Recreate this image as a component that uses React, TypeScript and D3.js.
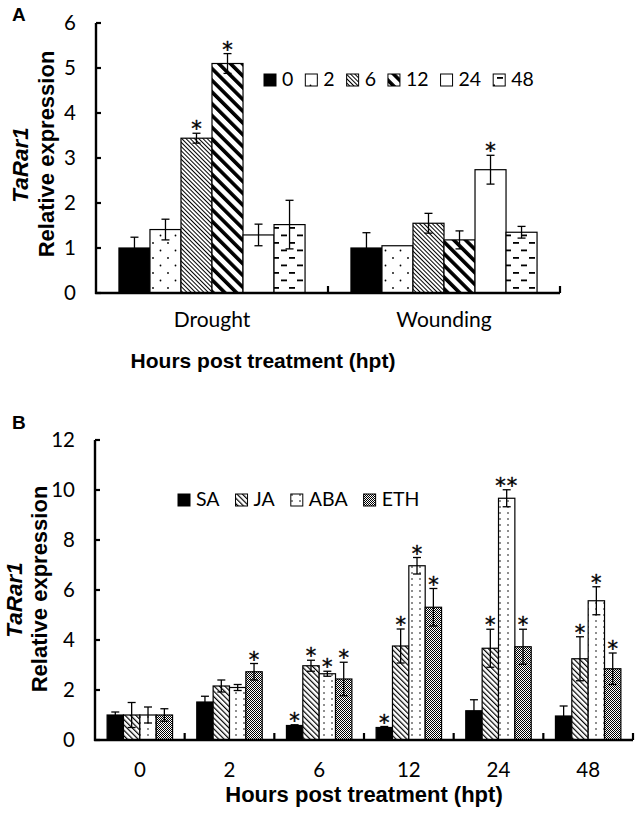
import React, { useEffect, useRef } from "react";
import * as d3 from "d3";

// ---------- Panel A data ----------
const stressCategories = ["Drought", "Wounding"];
const timeSeriesA = ["0", "2", "6", "12", "24", "48"];
const droughtMean = [1.0, 1.41, 3.44, 5.1, 1.29, 1.52];
const droughtErr = [0.24, 0.23, 0.11, 0.22, 0.24, 0.54];
const droughtSig = ["", "", "*", "*", "", ""];
const woundMean = [1.0, 1.05, 1.55, 1.18, 2.74, 1.35];
const woundErr = [0.34, 0.0, 0.22, 0.2, 0.32, 0.13];
const woundSig = ["", "", "", "", "*", ""];
const yTicksA = [0, 1, 2, 3, 4, 5, 6];

// ---------- Panel B data ----------
const timeCategoriesB = ["0", "2", "6", "12", "24", "48"];
const hormones = ["SA", "JA", "ABA", "ETH"];
const saMean = [1.0, 1.52, 0.58, 0.5, 1.17, 0.96];
const saErr = [0.12, 0.23, 0.03, 0.04, 0.44, 0.4];
const saSig = ["", "", "*", "*", "", ""];
const jaMean = [1.0, 2.16, 2.97, 3.76, 3.67, 3.25];
const jaErr = [0.5, 0.24, 0.22, 0.68, 0.76, 0.88];
const jaSig = ["", "", "*", "*", "*", "*"];
const abaMean = [1.0, 2.1, 2.65, 6.97, 9.67, 5.57];
const abaErr = [0.32, 0.12, 0.1, 0.33, 0.34, 0.56];
const abaSig = ["", "", "*", "*", "**", "*"];
const ethMean = [1.0, 2.73, 2.44, 5.31, 3.73, 2.85];
const ethErr = [0.25, 0.33, 0.67, 0.75, 0.7, 0.63];
const ethSig = ["", "*", "*", "*", "*", "*"];
const yTicksB = [0, 2, 4, 6, 8, 10, 12];

const W = 638;
const H = 813;
const LATO = "Lato, 'Open Sans', sans-serif";
const ARIAL = "'Liberation Sans', Arial, sans-serif";

const fillA = ["#000", "url(#pDots)", "url(#pFine)", "url(#pWide)", "#fff", "url(#pDash)"];
const fillB = ["#000", "url(#pJA)", "url(#pABA)", "url(#pETH)"];

export default function App() {
  const ref = useRef<SVGSVGElement | null>(null);

  useEffect(() => {
    const svg = d3.select(ref.current);
    svg.selectAll("*").remove();

    // ---------- patterns ----------
    const defs = svg.append("defs");
    const pd = defs.append("pattern").attr("id", "pDots").attr("patternUnits", "userSpaceOnUse")
      .attr("width", 15).attr("height", 15);
    pd.append("rect").attr("width", 15).attr("height", 15).attr("fill", "#fff");
    pd.append("circle").attr("cx", 3).attr("cy", 3).attr("r", 0.9).attr("fill", "#000");
    pd.append("circle").attr("cx", 10.5).attr("cy", 10.5).attr("r", 0.9).attr("fill", "#000");

    const diag = (id: string, period: number, lw: number) => {
      const p = defs.append("pattern").attr("id", id).attr("patternUnits", "userSpaceOnUse")
        .attr("width", period).attr("height", period).attr("patternTransform", "rotate(-45)");
      p.append("rect").attr("width", period).attr("height", period).attr("fill", "#fff");
      p.append("rect").attr("x", 0).attr("width", lw).attr("height", period).attr("fill", "#000");
    };
    diag("pFine", 3, 1);
    diag("pWide", 8.3, 3.6);
    diag("pJA", 3.8, 1.2);

    const pdash = defs.append("pattern").attr("id", "pDash").attr("patternUnits", "userSpaceOnUse")
      .attr("width", 16).attr("height", 15);
    pdash.append("rect").attr("width", 16).attr("height", 15).attr("fill", "#fff");
    pdash.append("rect").attr("x", 1).attr("y", 2).attr("width", 6).attr("height", 1.8).attr("fill", "#000");
    pdash.append("rect").attr("x", 9).attr("y", 9.5).attr("width", 6).attr("height", 1.8).attr("fill", "#000");

    const paba = defs.append("pattern").attr("id", "pABA").attr("patternUnits", "userSpaceOnUse")
      .attr("width", 8).attr("height", 6);
    paba.append("rect").attr("width", 8).attr("height", 6).attr("fill", "#fff");
    paba.append("circle").attr("cx", 4).attr("cy", 3).attr("r", 0.8).attr("fill", "#000");

    const peth = defs.append("pattern").attr("id", "pETH").attr("patternUnits", "userSpaceOnUse")
      .attr("width", 2).attr("height", 2);
    peth.append("rect").attr("width", 2).attr("height", 2).attr("fill", "#fff");
    peth.append("rect").attr("x", 0).attr("y", 0).attr("width", 1).attr("height", 1).attr("fill", "#000");
    peth.append("rect").attr("x", 1).attr("y", 1).attr("width", 1).attr("height", 1).attr("fill", "#000");

    type Bar = { cat: string; series: string; si: number; v: number; e: number; sig: string };

    const drawPanel = (opts: {
      x0: number; x1: number; yTop: number; yBot: number; yMax: number; ticks: number[];
      cats: string[]; series: string[]; bars: Bar[]; fills: string[];
      tickLabelRight: number; catLabelY: number; catFont: number;
    }) => {
      const g = svg.append("g");
      const x = d3.scaleBand<string>().domain(opts.cats).range([opts.x0, opts.x1]).padding(0);
      const xi = d3.scaleBand<string>().domain(opts.series).range([0, x.bandwidth()])
        .paddingInner(0).paddingOuter(0.74);
      const y = d3.scaleLinear().domain([0, opts.yMax]).range([opts.yBot, opts.yTop]);

      // bars
      g.selectAll("rect.bar").data(opts.bars).join("rect")
        .attr("x", (d) => (x(d.cat) as number) + (xi(d.series) as number))
        .attr("y", (d) => y(d.v))
        .attr("width", xi.bandwidth())
        .attr("height", (d) => y(0) - y(d.v))
        .attr("fill", (d) => opts.fills[d.si])
        .attr("stroke", "#000").attr("stroke-width", 1.2);

      // error bars
      const cap = 4;
      opts.bars.filter((d) => d.e > 0).forEach((d) => {
        const cx = (x(d.cat) as number) + (xi(d.series) as number) + xi.bandwidth() / 2;
        const yt = y(d.v + d.e);
        const yb = y(d.v - d.e);
        g.append("line").attr("x1", cx).attr("x2", cx).attr("y1", yt).attr("y2", yb)
          .attr("stroke", "#000").attr("stroke-width", 1.3);
        [yt, yb].forEach((yy) => {
          g.append("line").attr("x1", cx - cap).attr("x2", cx + cap).attr("y1", yy).attr("y2", yy)
            .attr("stroke", "#000").attr("stroke-width", 1.3);
        });
      });

      // significance stars
      g.selectAll("text.sig").data(opts.bars.filter((d) => d.sig !== "")).join("text")
        .attr("x", (d) => (x(d.cat) as number) + (xi(d.series) as number) + xi.bandwidth() / 2)
        .attr("y", (d) => y(d.v + d.e) + 3)
        .attr("text-anchor", "middle")
        .attr("font-family", "'DejaVu Sans', sans-serif").attr("font-size", 21)
        .attr("fill", "#000").attr("stroke", "#000").attr("stroke-width", 0.4)
        .attr("letter-spacing", (d) => (d.sig.length > 1 ? 1 : 0))
        .text((d) => d.sig);

      // y axis
      g.append("line").attr("x1", opts.x0).attr("x2", opts.x0).attr("y1", opts.yTop).attr("y2", opts.yBot + 1)
        .attr("stroke", "#000").attr("stroke-width", 2.4);
      opts.ticks.forEach((t) => {
        g.append("line").attr("x1", opts.x0).attr("x2", opts.x0 + 5).attr("y1", y(t)).attr("y2", y(t))
          .attr("stroke", "#000").attr("stroke-width", 2.2);
        g.append("text").attr("x", opts.tickLabelRight).attr("y", y(t)).attr("dy", "0.36em")
          .attr("text-anchor", "end").attr("font-family", LATO).attr("font-size", 20.5).text(String(t));
      });

      // x axis
      g.append("line").attr("x1", opts.x0 - 1).attr("x2", opts.x1).attr("y1", opts.yBot).attr("y2", opts.yBot)
        .attr("stroke", "#000").attr("stroke-width", 2.4);
      const bounds = opts.cats.map((c) => (x(c) as number) + x.bandwidth());
      bounds.forEach((bx) => {
        g.append("line").attr("x1", bx).attr("x2", bx).attr("y1", opts.yBot).attr("y2", opts.yBot - 7)
          .attr("stroke", "#000").attr("stroke-width", 2.2);
      });
      opts.cats.forEach((c) => {
        g.append("text").attr("x", (x(c) as number) + x.bandwidth() / 2).attr("y", opts.catLabelY)
          .attr("text-anchor", "middle").attr("font-family", LATO).attr("font-size", opts.catFont).text(c);
      });
    };

    // ---------- Panel A ----------
    const barsA: Bar[] = [];
    timeSeriesA.forEach((s, i) => {
      barsA.push({ cat: stressCategories[0], series: s, si: i, v: droughtMean[i], e: droughtErr[i], sig: droughtSig[i] });
      barsA.push({ cat: stressCategories[1], series: s, si: i, v: woundMean[i], e: woundErr[i], sig: woundSig[i] });
    });
    drawPanel({
      x0: 96, x1: 560, yTop: 23, yBot: 293, yMax: 6, ticks: yTicksA,
      cats: stressCategories, series: timeSeriesA, bars: barsA, fills: fillA,
      tickLabelRight: 76, catLabelY: 327, catFont: 21,
    });

    // ---------- Panel B ----------
    const meansB = [saMean, jaMean, abaMean, ethMean];
    const errsB = [saErr, jaErr, abaErr, ethErr];
    const sigsB = [saSig, jaSig, abaSig, ethSig];
    const barsB: Bar[] = [];
    hormones.forEach((h, si) => {
      timeCategoriesB.forEach((c, ci) => {
        barsB.push({ cat: c, series: h, si, v: meansB[si][ci], e: errsB[si][ci], sig: sigsB[si][ci] });
      });
    });
    drawPanel({
      x0: 95, x1: 633, yTop: 440, yBot: 740, yMax: 12, ticks: yTicksB,
      cats: timeCategoriesB, series: hormones, bars: barsB, fills: fillB,
      tickLabelRight: 75, catLabelY: 777, catFont: 20.5,
    });

    // ---------- legends ----------
    const legend = (labels: string[], fills: string[], x0: number, yBase: number, gap: number) => {
      let cx = x0;
      labels.forEach((lab, i) => {
        svg.append("rect").attr("x", cx).attr("y", yBase - 12).attr("width", 12).attr("height", 12)
          .attr("fill", fills[i]).attr("stroke", "#000").attr("stroke-width", 1);
        const t = svg.append("text").attr("x", cx + 18).attr("y", yBase)
          .attr("font-family", LATO).attr("font-size", 19.5).text(lab);
        const w = (t.node() as SVGTextElement).getComputedTextLength();
        cx = cx + 18 + w + gap;
      });
    };
    legend(timeSeriesA, fillA, 264, 86, 12);
    legend(hormones, fillB, 178, 506, 16);

    // ---------- titles ----------
    const addText = (txt: string, xx: number, yy: number, size: number, opts: any = {}) =>
      svg.append("text").attr("x", xx).attr("y", yy).attr("font-family", opts.family || ARIAL)
        .attr("font-size", size).attr("font-weight", opts.weight || "bold")
        .attr("font-style", opts.style || "normal")
        .attr("text-anchor", opts.anchor || "middle")
        .attr("transform", opts.rotate ? `rotate(-90, ${xx}, ${yy})` : null)
        .text(txt);

    addText("A", 12, 21, 19, { anchor: "start" });
    addText("B", 12, 429, 19, { anchor: "start" });
    addText("TaRar1", 28, 165, 22.5, { style: "italic", rotate: true });
    addText("Relative expression", 54, 154, 22, { rotate: true });
    addText("TaRar1", 22, 600, 22.5, { style: "italic", rotate: true });
    addText("Relative expression", 47, 589, 22, { rotate: true });
    addText("Hours post treatment (hpt)", 263, 368, 21);
    addText("Hours post treatment (hpt)", 364, 802, 22);
  }, []);

  return (
    <svg
      ref={ref}
      width={W}
      height={H}
      viewBox={`0 0 ${W} ${H}`}
      style={{ position: "absolute", left: 0, top: 0, background: "#fff" }}
    />
  );
}
